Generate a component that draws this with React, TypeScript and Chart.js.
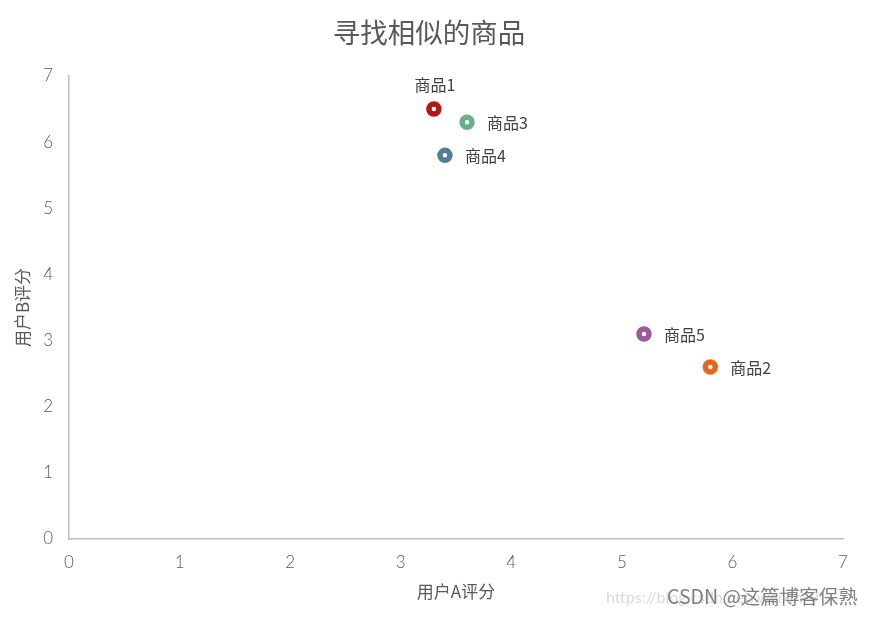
import React, { useEffect, useRef } from "react";
import { Chart, registerables } from "chart.js";

Chart.register(...registerables);

const productNames = ["商品1", "商品2", "商品3", "商品4", "商品5"];
const userAScores = [3.3, 5.8, 3.6, 3.4, 5.2];
const userBScores = [6.5, 2.6, 6.3, 5.8, 3.1];
const pointColors = ["#B01818", "#E8661C", "#6BAE8C", "#4F8099", "#9A5B9D"];
const labelAbove = [true, false, false, false, false];
const axisMax = 7;
const titleText = "寻找相似的商品";
const xTitle = "用户A评分";
const yTitle = "用户B评分";
const watermark = "CSDN @这篇博客保熟";

const CJK = '"Noto Sans CJK SC", "Noto Sans", sans-serif';
const NUM = 'Lato, "DejaVu Sans", sans-serif';

const overlayPlugin = {
  id: "overlay",
  afterDatasetsDraw(chart: any) {
    const ctx = chart.ctx;
    const meta = chart.getDatasetMeta(0);
    ctx.save();
    ctx.font = `16px ${CJK}`;
    ctx.fillStyle = "#404040";
    meta.data.forEach((el: any, i: number) => {
      const { x, y } = el.getProps(["x", "y"], true);
      if (labelAbove[i]) {
        ctx.textAlign = "center";
        ctx.textBaseline = "middle";
        ctx.fillText(productNames[i], x + 1, y - 24);
      } else {
        ctx.textAlign = "left";
        ctx.textBaseline = "middle";
        ctx.fillText(productNames[i], x + 20, y + 1);
      }
    });
    ctx.restore();
  },
  afterDraw(chart: any) {
    const ctx = chart.ctx;
    ctx.save();
    ctx.font = `27.5px ${CJK}`;
    ctx.fillStyle = "#595959";
    ctx.textAlign = "center";
    ctx.textBaseline = "middle";
    ctx.fillText(titleText, 429, 33);
    ctx.font = `16px ${NUM}`;
    ctx.fillStyle = "#DADADA";
    ctx.textAlign = "left";
    ctx.fillText("https://blog.csdn.net/weixin_9", 606, 598);
    ctx.font = `19.5px ${CJK}`;
    ctx.fillStyle = "#7F7F7F";
    ctx.fillText(watermark, 667, 597);
    ctx.restore();
  },
};

export default function App() {
  const ref = useRef<HTMLCanvasElement | null>(null);
  useEffect(() => {
    document.body.style.margin = "0";
    const points = userAScores.map((x, i) => ({ x, y: userBScores[i] }));
    const chart = new Chart(ref.current as HTMLCanvasElement, {
      type: "scatter",
      data: {
        datasets: [
          {
            data: points,
            pointRadius: 5,
            pointHoverRadius: 5,
            pointBorderWidth: 5.5,
            pointBackgroundColor: "#FFFFFF",
            pointBorderColor: pointColors,
          },
        ],
      },
      options: {
        animation: false,
        responsive: false,
        layout: { padding: { left: 0, top: 76, right: 29, bottom: 0 } },
        plugins: {
          legend: { display: false },
          tooltip: { enabled: false },
          title: { display: false },
        },
        scales: {
          x: {
            type: "linear",
            min: 0,
            max: axisMax,
            afterFit: (s: any) => {
              s.height = 78;
            },
            ticks: {
              stepSize: 1,
              color: "#595959",
              font: { family: NUM, size: 17, weight: "300" },
              padding: 13,
            },
            grid: { display: false, drawTicks: false },
            border: { display: true, color: "#BFBFBF", width: 1.5 },
            title: {
              display: true,
              text: xTitle,
              color: "#595959",
              font: { family: CJK, size: 17 },
              padding: { top: 0, bottom: 15 },
            },
          },
          y: {
            type: "linear",
            min: 0,
            max: axisMax,
            afterFit: (s: any) => {
              s.width = 69;
            },
            ticks: {
              stepSize: 1,
              color: "#595959",
              font: { family: NUM, size: 17, weight: "300" },
              padding: 16,
            },
            grid: { display: false, drawTicks: false },
            border: { display: true, color: "#BFBFBF", width: 1.5 },
            title: {
              display: true,
              text: yTitle,
              color: "#595959",
              font: { family: CJK, size: 17 },
              padding: { top: 12, bottom: 0 },
            },
          },
        },
      },
      plugins: [overlayPlugin],
    });
    return () => chart.destroy();
  }, []);
  return (
    <div style={{ position: "fixed", left: 0, top: 0, width: 872, height: 617, background: "#fff" }}>
      <canvas ref={ref} width={872} height={617} style={{ width: 872, height: 617 }} />
    </div>
  );
}
